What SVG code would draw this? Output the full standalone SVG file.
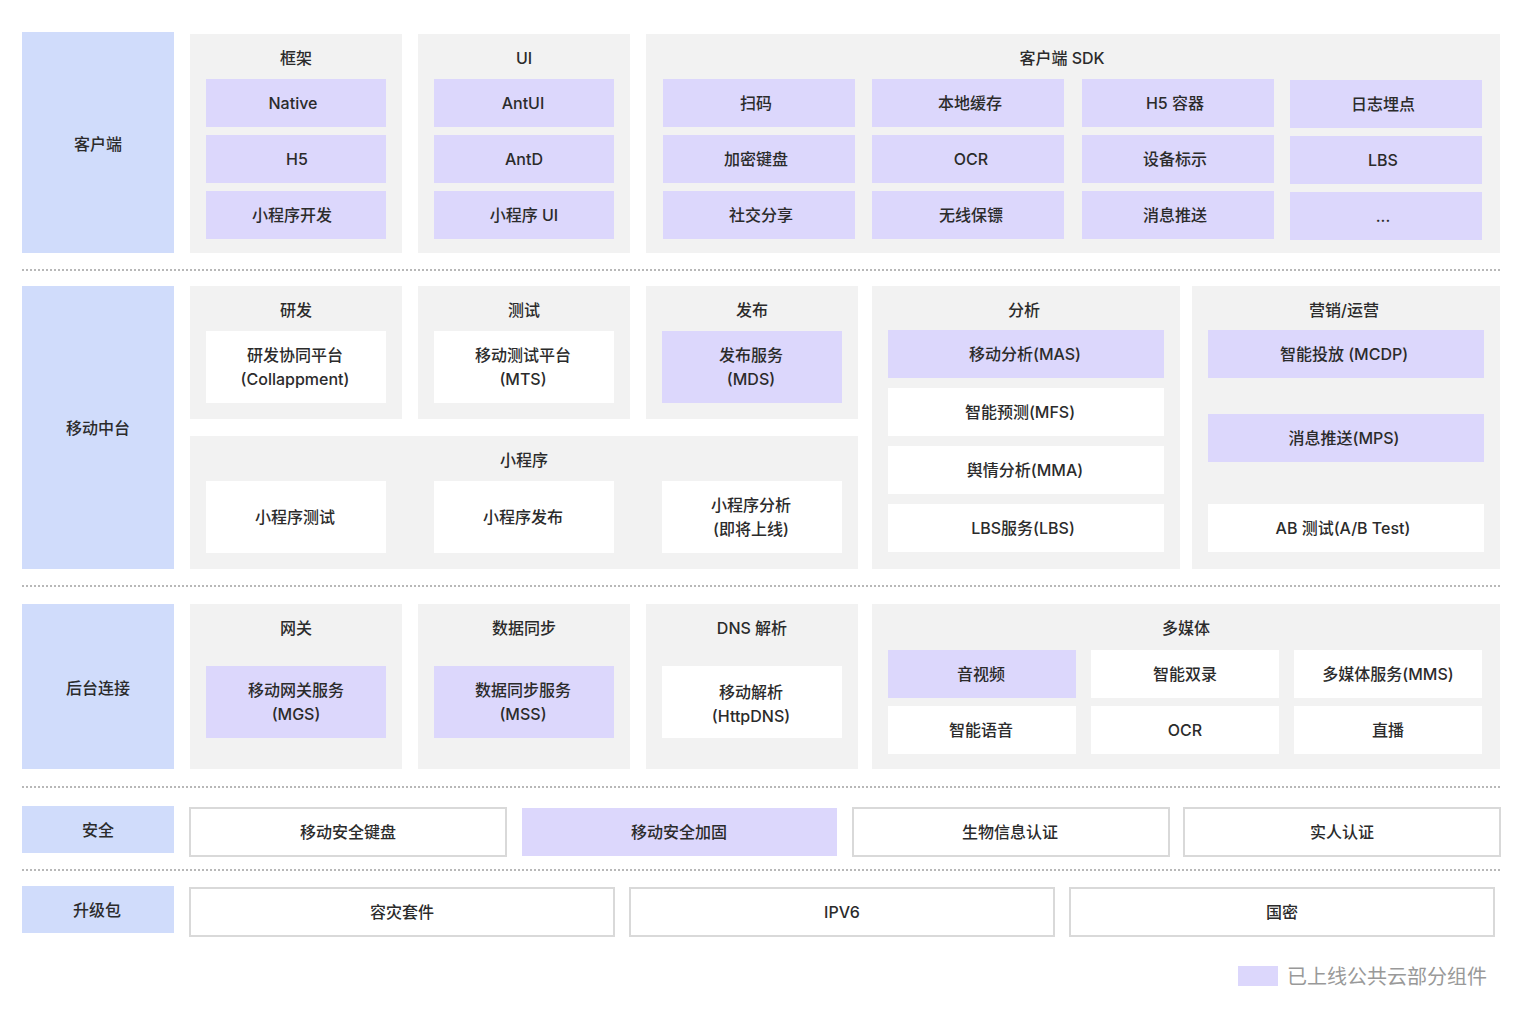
<svg xmlns="http://www.w3.org/2000/svg" width="1520" height="1020" viewBox="0 0 1520 1020">
<style>
text{font-family:"Inter","Noto Sans CJK SC",sans-serif;font-size:16px;fill:#2b2b2b;text-anchor:middle;dominant-baseline:central;font-weight:500}
.lab{fill:#d0dcfb}
.grp{fill:#f2f2f2}
.on{fill:#dcd7fc}
.off{fill:#ffffff}
.brd{fill:#ffffff;stroke:#d9d9d9;stroke-width:2}
.sep{stroke:#b8b8b8;stroke-width:2;stroke-dasharray:2 2;fill:none}
.leg{fill:#999;font-size:20px;text-anchor:start;font-weight:400}
</style>
<rect width="1520" height="1020" fill="#fff"/>
<g id="separators">
<line class="sep" x1="22" y1="270" x2="1500" y2="270"/>
<line class="sep" x1="22" y1="586" x2="1500" y2="586"/>
<line class="sep" x1="22" y1="787" x2="1500" y2="787"/>
<line class="sep" x1="22" y1="870" x2="1500" y2="870"/>
</g>
<!-- Row 1 -->
<g id="layer-client"><rect class="lab" x="22" y="32" width="152" height="221"/><text x="98" y="144">客户端</text></g>
<g id="grp-framework">
<rect class="grp" x="190" y="34" width="212" height="219"/><text x="296" y="58">框架</text>
<rect class="on" x="206" y="79" width="180" height="48"/><text x="293" y="103">Native</text>
<rect class="on" x="206" y="135" width="180" height="48"/><text x="297" y="159">H5</text>
<rect class="on" x="206" y="191" width="180" height="48"/><text x="292" y="215">小程序开发</text>
</g>
<g id="grp-ui">
<rect class="grp" x="418" y="34" width="212" height="219"/><text x="524" y="58">UI</text>
<rect class="on" x="434" y="79" width="180" height="48"/><text x="523" y="103">AntUI</text>
<rect class="on" x="434" y="135" width="180" height="48"/><text x="524" y="159">AntD</text>
<rect class="on" x="434" y="191" width="180" height="48"/><text x="524" y="215">小程序 UI</text>
</g>
<g id="grp-sdk">
<rect class="grp" x="646" y="34" width="854" height="219"/><text x="1062" y="58">客户端 SDK</text>
<rect class="on" x="663" y="79" width="192" height="48"/><text x="756" y="103">扫码</text>
<rect class="on" x="663" y="135" width="192" height="48"/><text x="756" y="159">加密键盘</text>
<rect class="on" x="663" y="191" width="192" height="48"/><text x="761" y="215">社交分享</text>
<rect class="on" x="872" y="79" width="192" height="48"/><text x="970" y="103">本地缓存</text>
<rect class="on" x="872" y="135" width="192" height="48"/><text x="971" y="159">OCR</text>
<rect class="on" x="872" y="191" width="192" height="48"/><text x="971" y="215">无线保镖</text>
<rect class="on" x="1082" y="79" width="192" height="48"/><text x="1175" y="103">H5 容器</text>
<rect class="on" x="1082" y="135" width="192" height="48"/><text x="1175" y="159">设备标示</text>
<rect class="on" x="1082" y="191" width="192" height="48"/><text x="1175" y="215">消息推送</text>
<rect class="on" x="1290" y="80" width="192" height="48"/><text x="1383" y="104">日志埋点</text>
<rect class="on" x="1290" y="136" width="192" height="48"/><text x="1383" y="160">LBS</text>
<rect class="on" x="1290" y="192" width="192" height="48"/><text x="1383" y="216">...</text>
</g>
<!-- Row 2 -->
<g id="layer-middle"><rect class="lab" x="22" y="286" width="152" height="283"/><text x="98" y="428">移动中台</text></g>
<g id="grp-dev">
<rect class="grp" x="190" y="286" width="212" height="133"/><text x="296" y="310">研发</text>
<rect class="off" x="206" y="331" width="180" height="72"/><text x="295" y="355">研发协同平台</text><text x="295" y="379">(Collappment)</text>
</g>
<g id="grp-test">
<rect class="grp" x="418" y="286" width="212" height="133"/><text x="524" y="310">测试</text>
<rect class="off" x="434" y="331" width="180" height="72"/><text x="523" y="355">移动测试平台</text><text x="523" y="379">(MTS)</text>
</g>
<g id="grp-release">
<rect class="grp" x="646" y="286" width="212" height="133"/><text x="752" y="310">发布</text>
<rect class="on" x="662" y="331" width="180" height="72"/><text x="751" y="355">发布服务</text><text x="751" y="379">(MDS)</text>
</g>
<g id="grp-miniapp">
<rect class="grp" x="190" y="436" width="668" height="133"/><text x="524" y="460">小程序</text>
<rect class="off" x="206" y="481" width="180" height="72"/><text x="295" y="517">小程序测试</text>
<rect class="off" x="434" y="481" width="180" height="72"/><text x="523" y="517">小程序发布</text>
<rect class="off" x="662" y="481" width="180" height="72"/><text x="751" y="505">小程序分析</text><text x="751" y="529">(即将上线)</text>
</g>
<g id="grp-analysis">
<rect class="grp" x="872" y="286" width="308" height="283"/><text x="1024" y="310">分析</text>
<rect class="on" x="888" y="330" width="276" height="48"/><text x="1025" y="354">移动分析(MAS)</text>
<rect class="off" x="888" y="388" width="276" height="48"/><text x="1020" y="412">智能预测(MFS)</text>
<rect class="off" x="888" y="446" width="276" height="48"/><text x="1025" y="470">舆情分析(MMA)</text>
<rect class="off" x="888" y="504" width="276" height="48"/><text x="1023" y="528">LBS服务(LBS)</text>
</g>
<g id="grp-marketing">
<rect class="grp" x="1192" y="286" width="308" height="283"/><text x="1344" y="310">营销/运营</text>
<rect class="on" x="1208" y="330" width="276" height="48"/><text x="1344" y="354">智能投放 (MCDP)</text>
<rect class="on" x="1208" y="414" width="276" height="48"/><text x="1344" y="438">消息推送(MPS)</text>
<rect class="off" x="1208" y="504" width="276" height="48"/><text x="1343" y="528">AB 测试(A/B Test)</text>
</g>
<!-- Row 3 -->
<g id="layer-backend"><rect class="lab" x="22" y="604" width="152" height="165"/><text x="98" y="688">后台连接</text></g>
<g id="grp-gateway">
<rect class="grp" x="190" y="604" width="212" height="165"/><text x="296" y="628">网关</text>
<rect class="on" x="206" y="666" width="180" height="72"/><text x="296" y="690">移动网关服务</text><text x="296" y="714">(MGS)</text>
</g>
<g id="grp-sync">
<rect class="grp" x="418" y="604" width="212" height="165"/><text x="524" y="628">数据同步</text>
<rect class="on" x="434" y="666" width="180" height="72"/><text x="523" y="690">数据同步服务</text><text x="523" y="714">(MSS)</text>
</g>
<g id="grp-dns">
<rect class="grp" x="646" y="604" width="212" height="165"/><text x="752" y="628">DNS 解析</text>
<rect class="off" x="662" y="666" width="180" height="72"/><text x="751" y="692">移动解析</text><text x="751" y="716">(HttpDNS)</text>
</g>
<g id="grp-media">
<rect class="grp" x="872" y="604" width="628" height="165"/><text x="1186" y="628">多媒体</text>
<rect class="on" x="888" y="650" width="188" height="48"/><text x="981" y="674">音视频</text>
<rect class="off" x="1091" y="650" width="188" height="48"/><text x="1185" y="674">智能双录</text>
<rect class="off" x="1294" y="650" width="188" height="48"/><text x="1388" y="674">多媒体服务(MMS)</text>
<rect class="off" x="888" y="706" width="188" height="48"/><text x="981" y="730">智能语音</text>
<rect class="off" x="1091" y="706" width="188" height="48"/><text x="1185" y="730">OCR</text>
<rect class="off" x="1294" y="706" width="188" height="48"/><text x="1388" y="730">直播</text>
</g>
<!-- Row 4 -->
<g id="layer-security"><rect class="lab" x="22" y="806" width="152" height="47"/><text x="98" y="830">安全</text></g>
<g id="sec-keyboard"><rect class="brd" x="190" y="808" width="316" height="48"/><text x="348" y="832">移动安全键盘</text></g>
<g id="sec-harden"><rect class="on" x="522" y="808" width="315" height="48"/><text x="679" y="832">移动安全加固</text></g>
<g id="sec-bio"><rect class="brd" x="853" y="808" width="316" height="48"/><text x="1010" y="832">生物信息认证</text></g>
<g id="sec-realname"><rect class="brd" x="1184" y="808" width="316" height="48"/><text x="1342" y="832">实人认证</text></g>
<!-- Row 5 -->
<g id="layer-upgrade"><rect class="lab" x="22" y="886" width="152" height="47"/><text x="97" y="910">升级包</text></g>
<g id="up-dr"><rect class="brd" x="190" y="888" width="424" height="48"/><text x="402" y="912">容灾套件</text></g>
<g id="up-ipv6"><rect class="brd" x="630" y="888" width="424" height="48"/><text x="842" y="912">IPV6</text></g>
<g id="up-gm"><rect class="brd" x="1070" y="888" width="424" height="48"/><text x="1282" y="912">国密</text></g>
<!-- Legend -->
<g id="legend"><rect class="on" x="1238" y="966" width="40" height="20"/><text class="leg" x="1287" y="977">已上线公共云部分组件</text></g>
</svg>
